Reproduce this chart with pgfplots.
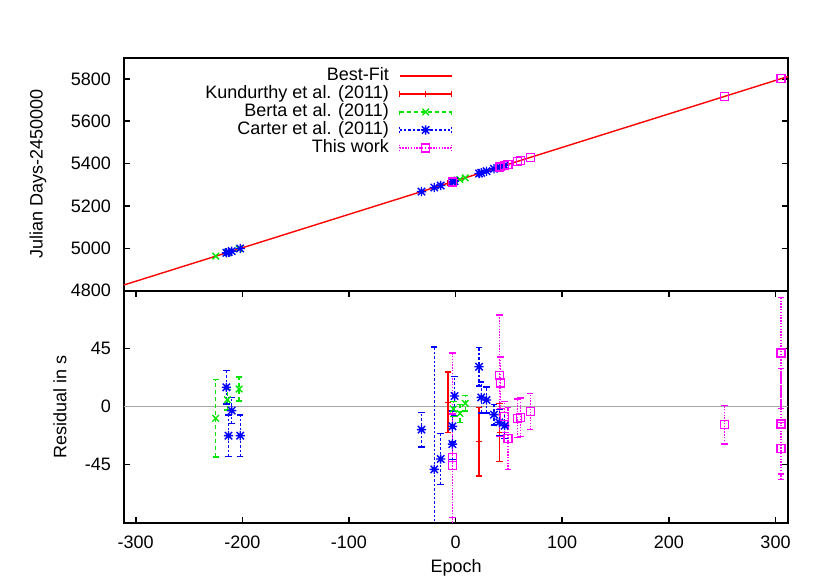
\documentclass[border=0pt]{standalone}
\usepackage{fontspec}
\setmainfont{Liberation Sans}
\usepackage{pgfplots}
\usepackage{pgfplotstable}
\pgfplotsset{compat=1.18}

\definecolor{gpred}{RGB}{255,0,0}
\definecolor{gpgreen}{RGB}{0,230,0}
\definecolor{gpblue}{RGB}{0,0,255}
\definecolor{gpmag}{RGB}{255,0,255}

\pgfdeclareplotmark{gpstar}{%
  \pgfpathmoveto{\pgfqpoint{-\pgfplotmarksize}{0pt}}\pgfpathlineto{\pgfqpoint{\pgfplotmarksize}{0pt}}%
  \pgfpathmoveto{\pgfqpoint{0pt}{-\pgfplotmarksize}}\pgfpathlineto{\pgfqpoint{0pt}{\pgfplotmarksize}}%
  \pgfpathmoveto{\pgfqpoint{-0.8\pgfplotmarksize}{-0.8\pgfplotmarksize}}\pgfpathlineto{\pgfqpoint{0.8\pgfplotmarksize}{0.8\pgfplotmarksize}}%
  \pgfpathmoveto{\pgfqpoint{-0.8\pgfplotmarksize}{0.8\pgfplotmarksize}}\pgfpathlineto{\pgfqpoint{0.8\pgfplotmarksize}{-0.8\pgfplotmarksize}}%
  \pgfusepathqstroke}

\tikzset{
  kundash/.style={solid},
  bertadash/.style={dash pattern=on 2pt off 1.5pt},
  carterdash/.style={dash pattern=on 1.2pt off 1pt},
  thisdash/.style={dash pattern=on 0.7pt off 0.7pt},
  ebw/.style={line width=0.7pt},
}

% ---------- residuals (epoch, residual in s)
\pgfplotstableread{
e r
-7 3.4
22 -27.2
41 -19.9
}\kunres
\pgfplotstableread{
e r
-225 -9
-214 5.4
-203 13.7
-2 -1.8
4 -5.2
9 2.6
}\bertares
\pgfplotstableread{
e r
-215 15
-213 -22.5
-210 -3
-202 -22.5
-32 -17.8
-20 -48.6
-14 -40.6
-3 -29
-3 -15.3
-1 8.3
22 31
24 7.2
29 5.2
36 -6.2
41 -12.2
46 -14.7
}\carterres
\pgfplotstableread{
e r
-3 -39.3
-3 -45.8
41 24
42 18.4
46 -7.8
49 -24.8
58 -9
61 -8.3
70 -3.9
252 -14
305 41.7
305 -13.5
305 -32.3
}\thisres
% ---------- error bar ends (epoch, low / high end in s; nan separates bars)
\pgfplotstableread{
e y
-7 -20.1
-7 26.9
nan nan
22 -53.8
22 -0.6
nan nan
41 -42.4
41 2.6
}\kunerr
\pgfplotstableread{
e y
-225 -39
-225 21
nan nan
-214 -2.6
-214 13.4
nan nan
-203 4.3
-203 23.1
nan nan
-2 -7.8
-2 4.2
nan nan
4 -12.2
4 1.8
nan nan
9 -3.4
9 8.6
}\bertaerr
\pgfplotstableread{
e y
-215 2
-215 28
nan nan
-213 -38.5
-213 -6.5
nan nan
-210 -13
-210 7
nan nan
-202 -38.5
-202 -6.5
nan nan
-32 -31.3
-32 -4.3
nan nan
-20 -143.6
-20 46.4
nan nan
-14 -60.6
-14 -20.6
nan nan
-3 -41
-3 -17
nan nan
-3 -27.3
-3 -3.3
nan nan
-1 -6.7
-1 23.3
nan nan
22 16
22 46
nan nan
24 -4.8
24 19.2
nan nan
29 -4.8
29 15.2
nan nan
36 -14.2
36 1.8
nan nan
41 -22.2
41 -2.2
nan nan
46 -24.7
46 -4.7
}\cartererr
\pgfplotstableread{
e y
-3 -120.3
-3 41.7
nan nan
-3 -85.8
-3 -5.8
nan nan
41 -23
41 71
nan nan
42 -1.6
42 38.4
nan nan
46 -19.8
46 4.2
nan nan
49 -48.8
49 -0.8
nan nan
58 -24
58 6
nan nan
61 -23.3
61 6.7
nan nan
70 -17.9
70 10.1
nan nan
252 -29
252 1
nan nan
305 -1.3
305 84.7
nan nan
305 -56.5
305 29.5
nan nan
305 -52.3
305 -12.3
}\thiserr
% ---------- mid-transit times (epoch, JD-2450000)
\pgfplotstableread{
e t
-7 5307.4
22 5353.3
41 5383.3
}\kuntt
\pgfplotstableread{
e t
-225 4962.9
-214 4980.3
-203 4997.7
-2 5315.3
4 5324.8
9 5332.7
}\bertatt
\pgfplotstableread{
e t
-215 4978.7
-213 4981.9
-210 4986.6
-202 4999.3
-32 5267.9
-20 5286.9
-14 5296.4
-3 5313.8
-1 5316.9
22 5353.3
24 5356.4
29 5364.3
36 5375.4
41 5383.3
46 5391.2
}\cartertt
\pgfplotstableread{
e t
-3 5313.8
41 5383.3
42 5384.9
46 5391.2
49 5395.9
58 5410.2
61 5414.9
70 5429.1
252 5716.8
305 5800.5
}\thistt

\pgfplotsset{
  gpaxis/.style={
    scale only axis, width=332.15pt,
    xmin=-311, xmax=312,
    axis line style={line width=1pt},
    tick style={black, line width=0.8pt},
    major tick length=3pt, tick align=inside,
    /pgf/number format/assume math mode=true,
    /pgf/number format/1000 sep={},
    every tick label/.append style={font=\fontsize{9}{10}\selectfont},
    label style={font=\fontsize{9}{10}\selectfont},
    xticklabel style={yshift=-3.2pt},
    yticklabel style={xshift=-3pt},
    unbounded coords=jump,
  },
  kunst/.style={color=gpred, line width=0.7pt, only marks, mark=+, mark size=1.4pt},
  bertast/.style={color=gpgreen, line width=0.7pt, only marks, mark=x, mark size=2.3pt},
  carterst/.style={color=gpblue, line width=0.7pt, only marks, mark=gpstar, mark size=2.3pt},
  thisst/.style={color=gpmag, line width=0.7pt, only marks, mark=square, mark size=2pt},
  capst/.style={color=#1, line width=0.7pt, only marks, mark=-, mark size=1.6pt},
}

\begin{document}
\begin{tikzpicture}[x=1pt,y=1pt]
\path[use as bounding box] (0,0) rectangle (415,290.5);

% ================= top panel
\begin{axis}[gpaxis, at={(62pt,145.15pt)}, anchor=south west, height=116.5pt,
  ymin=4800, ymax=5900, ytick={4800,5000,...,5800}, xtick=\empty,
  ylabel={Julian Days-2450000},
  ylabel style={at={(axis description cs:-0.1295,0.5)}, anchor=center},
  legend style={at={(axis description cs:0.4948,0.962)}, anchor=north east,
    draw=none, fill=none, inner sep=0pt, row sep=0pt, column sep=5pt,
    font=\fontsize{9}{10}\selectfont,
    nodes={inner xsep=0pt, inner ysep=0.25pt, text height=6.6pt, text depth=1.9pt}},
  legend cell align=right, legend plot pos=right]
\addlegendimage{gpred, line width=0.7pt, mark=none,
  legend image code/.code={\draw[gpred, line width=0.7pt] (0pt,0pt) -- (26pt,0pt);}}
\addlegendentry{Best-Fit}
\addlegendimage{gpred, mark=none, legend image code/.code={
  \draw[gpred, ebw, solid] (0pt,0pt) -- (26pt,0pt) (0pt,-1.6pt) -- (0pt,1.6pt) (26pt,-1.6pt) -- (26pt,1.6pt) (13pt,-1.6pt) -- (13pt,1.6pt);}}
\addlegendentry{Kundurthy et al. (2011)}
\addlegendimage{gpgreen, mark=none, legend image code/.code={
  \draw[gpgreen, ebw, bertadash] (0pt,0pt) -- (26pt,0pt) (0pt,-1.6pt) -- (0pt,1.6pt) (26pt,-1.6pt) -- (26pt,1.6pt);
  \draw[gpgreen, ebw, solid, mark=x, mark size=2.3pt] plot coordinates {(13pt,0pt)};}}
\addlegendentry{Berta et al. (2011)}
\addlegendimage{gpblue, mark=none, legend image code/.code={
  \draw[gpblue, ebw, carterdash] (0pt,0pt) -- (26pt,0pt) (0pt,-1.6pt) -- (0pt,1.6pt) (26pt,-1.6pt) -- (26pt,1.6pt);
  \draw[gpblue, ebw, solid, mark=gpstar, mark size=2.3pt] plot coordinates {(13pt,0pt)};}}
\addlegendentry{Carter et al. (2011)}
\addlegendimage{gpmag, mark=none, legend image code/.code={
  \draw[gpmag, ebw, thisdash] (0pt,0pt) -- (26pt,0pt) (0pt,-1.6pt) -- (0pt,1.6pt) (26pt,-1.6pt) -- (26pt,1.6pt);
  \draw[gpmag, ebw, solid, mark=square, mark size=2pt] plot coordinates {(13pt,0pt)};}}
\addlegendentry{This work}
\addplot[color=gpred, line width=0.7pt, mark=none, forget plot]
  coordinates {(-311,4827.0) (312,5811.6)};
\addplot[kunst, forget plot] table[x=e, y=t] {\kuntt};
\addplot[bertast, forget plot] table[x=e, y=t] {\bertatt};
\addplot[carterst, forget plot] table[x=e, y=t] {\cartertt};
\addplot[thisst, forget plot] table[x=e, y=t] {\thistt};
\end{axis}

% ================= bottom panel
\begin{axis}[gpaxis, at={(62pt,29.15pt)}, anchor=south west, height=116pt,
  ymin=-90, ymax=90, ytick={-45,0,45}, xtick={-300,-200,...,300},
  xlabel={Epoch}, ylabel={Residual in s},
  xlabel style={at={(axis description cs:0.5,0)}, anchor=center, yshift=-22.6pt},
  ylabel style={at={(axis description cs:-0.0963,0.5)}, anchor=center}]
\addplot[draw=black!35, line width=0.6pt, mark=none] coordinates {(-311,0) (312,0)};
% error bars
\addplot[gpred, ebw, mark=none, kundash] table[x=e, y=y] {\kunerr};
\addplot[gpgreen, ebw, mark=none, bertadash] table[x=e, y=y] {\bertaerr};
\addplot[gpblue, ebw, mark=none, carterdash] table[x=e, y=y] {\cartererr};
\addplot[gpmag, ebw, mark=none, thisdash] table[x=e, y=y] {\thiserr};
% caps
\addplot[capst=gpred] table[x=e, y=y] {\kunerr};
\addplot[capst=gpgreen] table[x=e, y=y] {\bertaerr};
\addplot[capst=gpblue] table[x=e, y=y] {\cartererr};
\addplot[capst=gpmag] table[x=e, y=y] {\thiserr};
% points
\addplot[kunst] table[x=e, y=r] {\kunres};
\addplot[bertast] table[x=e, y=r] {\bertares};
\addplot[carterst] table[x=e, y=r] {\carterres};
\addplot[thisst] table[x=e, y=r] {\thisres};
\end{axis}
\end{tikzpicture}
\end{document}
